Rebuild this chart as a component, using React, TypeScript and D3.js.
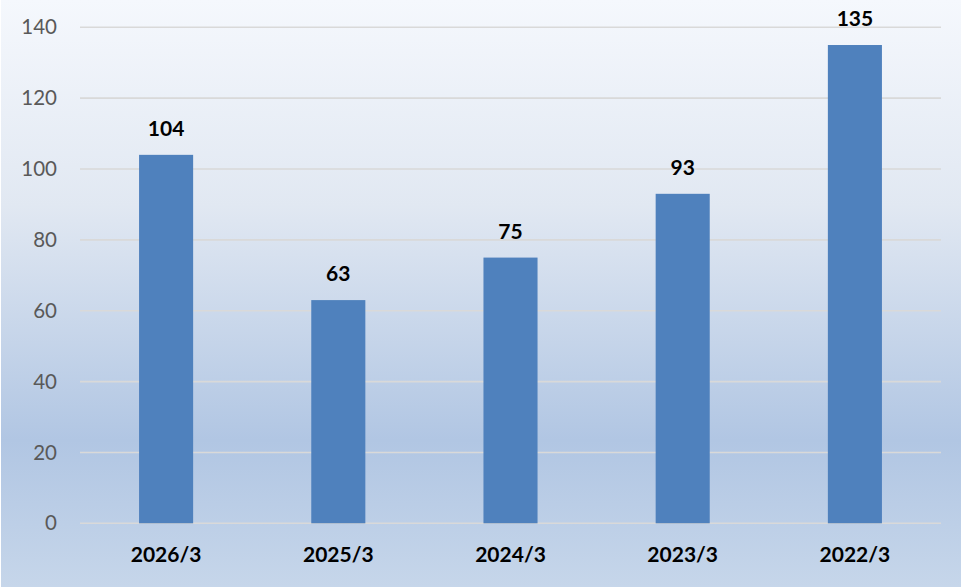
import React from "react";
import * as d3 from "d3";

const categories = ["2026/3", "2025/3", "2024/3", "2023/3", "2022/3"];
const values = [104, 63, 75, 93, 135];
const yTicks = [0, 20, 40, 60, 80, 100, 120, 140];

const W = 961;
const H = 587;
const left = 80;
const right = 941;
const yTop = 27.3;
const yBottom = 523.3;

export default function App() {
  const x = d3
    .scaleBand<string>()
    .domain(categories)
    .range([left, right])
    .paddingInner(0.686)
    .paddingOuter(0.343);
  const y = d3.scaleLinear().domain([0, 140]).range([yBottom, yTop]);
  const font = "Lato, 'Open Sans', sans-serif";

  return (
    <svg
      width={W}
      height={H}
      style={{ position: "absolute", left: 0, top: 0, display: "block" }}
    >
      <defs>
        <linearGradient id="bg" x1="0" y1="0" x2="0" y2="1">
          <stop offset="0" stopColor="#f5f8fd" />
          <stop offset="0.35" stopColor="#e1e8f2" />
          <stop offset="0.75" stopColor="#b1c6e3" />
          <stop offset="1" stopColor="#c6d6ea" />
        </linearGradient>
      </defs>
      <rect x={0} y={0} width={W} height={H} fill="#ffffff" />
      <rect x={1} y={0} width={W - 1} height={H} fill="url(#bg)" />
      {yTicks.map((t) => (
        <g key={t}>
          <line
            x1={left}
            x2={right}
            y1={y(t)}
            y2={y(t)}
            stroke="#d9d9d9"
            strokeWidth={1.6}
          />
          <text
            x={57}
            y={y(t)}
            dy="0.35em"
            textAnchor="end"
            fontFamily={font}
            fontSize={20.5}
            fill="#595959"
          >
            {t}
          </text>
        </g>
      ))}
      {categories.map((c, i) => (
        <g key={c}>
          <rect
            x={x(c)}
            y={y(values[i])}
            width={x.bandwidth()}
            height={y(0) - y(values[i])}
            fill="#4f81bd"
          />
          <text
            x={(x(c) as number) + x.bandwidth() / 2}
            y={y(values[i]) - 19}
            textAnchor="middle"
            fontFamily={font}
            fontWeight="bold"
            fontSize={21}
            fill="#000000"
          >
            {values[i]}
          </text>
          <text
            x={(x(c) as number) + x.bandwidth() / 2}
            y={562}
            textAnchor="middle"
            fontFamily={font}
            fontWeight="bold"
            fontSize={21}
            fill="#000000"
          >
            {c}
          </text>
        </g>
      ))}
    </svg>
  );
}
